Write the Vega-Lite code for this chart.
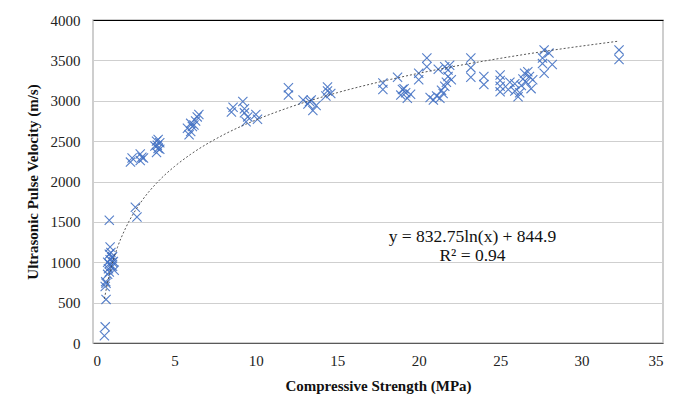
{
  "$schema": "https://vega.github.io/schema/vega-lite/v6.json",
  "autosize": "none",
  "width": 570,
  "height": 323,
  "padding": {"left": 93, "top": 20, "right": 37, "bottom": 61},
  "background": "white",
  "config": {
    "view": {"stroke": "#bfbfbf", "strokeWidth": 1.5},
    "font": "Times New Roman",
    "axis": {
      "labelFont": "Times New Roman", "labelFontSize": 15, "labelColor": "#222",
      "titleFont": "Times New Roman", "titleFontSize": 15, "titleFontWeight": "bold", "titleColor": "#111",
      "ticks": false, "format": "d"
    },
    "axisX": {"grid": false, "domain": true, "domainColor": "#595959", "domainWidth": 1, "labelPadding": 10, "titlePadding": 10},
    "axisY": {
      "grid": true, "domain": false, "labelPadding": 13, "titlePadding": 10,
      "gridColor": {"condition": {"test": "datum.value === 4000", "value": "#000000"}, "value": "#cfcfcf"}
    }
  },
  "layer": [
    {
      "data": {"values": [
        {"s": 0.7, "v": 90}, {"s": 0.75, "v": 200}, {"s": 0.8, "v": 540}, {"s": 0.75, "v": 700},
        {"s": 0.8, "v": 740}, {"s": 0.78, "v": 760}, {"s": 0.9, "v": 850}, {"s": 1.0, "v": 880},
        {"s": 0.95, "v": 920}, {"s": 1.1, "v": 950}, {"s": 1.0, "v": 980}, {"s": 1.2, "v": 1000},
        {"s": 1.05, "v": 1030}, {"s": 1.15, "v": 1060}, {"s": 1.0, "v": 1100}, {"s": 1.1, "v": 1120},
        {"s": 1.2, "v": 950}, {"s": 1.25, "v": 1010}, {"s": 1.05, "v": 1190}, {"s": 1.0, "v": 1520},
        {"s": 0.9, "v": 1000}, {"s": 1.3, "v": 900}, {"s": 1.2, "v": 1070},
        {"s": 2.6, "v": 1680}, {"s": 2.7, "v": 1560},
        {"s": 2.3, "v": 2240}, {"s": 2.4, "v": 2290}, {"s": 2.9, "v": 2260}, {"s": 3.0, "v": 2300},
        {"s": 2.9, "v": 2340}, {"s": 3.1, "v": 2290},
        {"s": 3.9, "v": 2360}, {"s": 4.0, "v": 2410}, {"s": 3.95, "v": 2450}, {"s": 4.1, "v": 2480},
        {"s": 3.9, "v": 2500}, {"s": 4.0, "v": 2520}, {"s": 4.1, "v": 2400}, {"s": 3.8, "v": 2440},
        {"s": 5.9, "v": 2580}, {"s": 6.0, "v": 2620}, {"s": 6.1, "v": 2680}, {"s": 6.2, "v": 2700},
        {"s": 6.3, "v": 2750}, {"s": 6.4, "v": 2800}, {"s": 6.0, "v": 2720}, {"s": 6.5, "v": 2830},
        {"s": 5.8, "v": 2660},
        {"s": 8.5, "v": 2860}, {"s": 8.6, "v": 2920}, {"s": 9.2, "v": 2990}, {"s": 9.3, "v": 2900},
        {"s": 9.3, "v": 2850}, {"s": 9.5, "v": 2800}, {"s": 9.4, "v": 2740}, {"s": 10.0, "v": 2830},
        {"s": 10.1, "v": 2770},
        {"s": 12.0, "v": 3070}, {"s": 12.0, "v": 3160},
        {"s": 12.9, "v": 3010}, {"s": 13.2, "v": 2960}, {"s": 13.4, "v": 3010}, {"s": 13.7, "v": 2940},
        {"s": 13.5, "v": 2880}, {"s": 13.3, "v": 2990},
        {"s": 14.3, "v": 3060}, {"s": 14.4, "v": 3120}, {"s": 14.4, "v": 3170}, {"s": 14.6, "v": 3090},
        {"s": 17.8, "v": 3140}, {"s": 17.8, "v": 3220}, {"s": 18.7, "v": 3290},
        {"s": 18.9, "v": 3070}, {"s": 19.0, "v": 3140}, {"s": 19.2, "v": 3100}, {"s": 19.3, "v": 3030},
        {"s": 19.1, "v": 3150}, {"s": 19.5, "v": 3080},
        {"s": 20.0, "v": 3260}, {"s": 20.0, "v": 3340}, {"s": 20.5, "v": 3420}, {"s": 20.5, "v": 3530},
        {"s": 20.7, "v": 3040}, {"s": 20.9, "v": 3010}, {"s": 21.1, "v": 3060}, {"s": 21.3, "v": 3030},
        {"s": 21.5, "v": 3090}, {"s": 21.6, "v": 3180}, {"s": 21.7, "v": 3230}, {"s": 21.8, "v": 3300},
        {"s": 21.9, "v": 3440}, {"s": 21.8, "v": 3380}, {"s": 21.6, "v": 3420}, {"s": 21.2, "v": 3390},
        {"s": 22.0, "v": 3260}, {"s": 21.4, "v": 3130},
        {"s": 23.2, "v": 3290}, {"s": 23.2, "v": 3410}, {"s": 23.2, "v": 3530},
        {"s": 24.0, "v": 3200}, {"s": 24.0, "v": 3300},
        {"s": 25.0, "v": 3110}, {"s": 25.0, "v": 3180}, {"s": 25.0, "v": 3250}, {"s": 25.0, "v": 3320},
        {"s": 25.5, "v": 3140}, {"s": 25.6, "v": 3230}, {"s": 25.9, "v": 3120}, {"s": 25.9, "v": 3210},
        {"s": 26.2, "v": 3100}, {"s": 26.3, "v": 3190}, {"s": 26.4, "v": 3270}, {"s": 26.5, "v": 3340},
        {"s": 26.7, "v": 3360}, {"s": 26.8, "v": 3300}, {"s": 26.6, "v": 3230}, {"s": 26.9, "v": 3150},
        {"s": 27.0, "v": 3260}, {"s": 26.1, "v": 3050},
        {"s": 27.7, "v": 3630}, {"s": 28.0, "v": 3590}, {"s": 27.6, "v": 3530}, {"s": 27.6, "v": 3460},
        {"s": 28.2, "v": 3450}, {"s": 27.7, "v": 3340},
        {"s": 32.3, "v": 3510}, {"s": 32.3, "v": 3630}
      ]},
      "mark": {
        "type": "point",
        "shape": "M-1,-1L1,1M-1,1L1,-1",
        "filled": false,
        "stroke": "#4472C4",
        "strokeWidth": 1.1,
        "size": 85,
        "opacity": 0.9
      },
      "encoding": {
        "x": {
          "field": "s", "type": "quantitative",
          "scale": {"domain": [0, 35], "nice": false},
          "axis": {"title": "Compressive Strength (MPa)", "values": [0, 5, 10, 15, 20, 25, 30, 35]}
        },
        "y": {
          "field": "v", "type": "quantitative",
          "scale": {"domain": [0, 4000], "nice": false},
          "axis": {"title": "Ultrasonic Pulse Velocity (m/s)", "values": [0, 500, 1000, 1500, 2000, 2500, 3000, 3500, 4000]}
        }
      }
    },
    {
      "data": {"values": [
        {"s": 0.7, "v": 548}, {"s": 1.0, "v": 845}, {"s": 1.5, "v": 1183}, {"s": 2.0, "v": 1422},
        {"s": 3.0, "v": 1760}, {"s": 4.0, "v": 2000}, {"s": 5.0, "v": 2185}, {"s": 6.0, "v": 2337},
        {"s": 8.0, "v": 2577}, {"s": 10.0, "v": 2762}, {"s": 12.0, "v": 2914}, {"s": 15.0, "v": 3100},
        {"s": 18.0, "v": 3252}, {"s": 20.0, "v": 3340}, {"s": 22.0, "v": 3419}, {"s": 25.0, "v": 3525},
        {"s": 28.0, "v": 3620}, {"s": 32.2, "v": 3736}
      ]},
      "mark": {"type": "line", "color": "#444", "strokeWidth": 0.9, "strokeDash": [2, 2], "interpolate": "monotone"},
      "encoding": {
        "x": {"field": "s", "type": "quantitative"},
        "y": {"field": "v", "type": "quantitative"}
      }
    },
    {
      "data": {"values": [{"label": "y = 832.75ln(x) + 844.9"}]},
      "mark": {"type": "text", "fontSize": 17.5, "fill": "#111"},
      "encoding": {
        "x": {"datum": 23.3, "type": "quantitative"},
        "y": {"datum": 1316, "type": "quantitative"},
        "text": {"field": "label", "type": "nominal"}
      }
    },
    {
      "data": {"values": [{"label": "R² = 0.94"}]},
      "mark": {"type": "text", "fontSize": 17.5, "fill": "#111"},
      "encoding": {
        "x": {"datum": 23.3, "type": "quantitative"},
        "y": {"datum": 1081, "type": "quantitative"},
        "text": {"field": "label", "type": "nominal"}
      }
    }
  ]
}
